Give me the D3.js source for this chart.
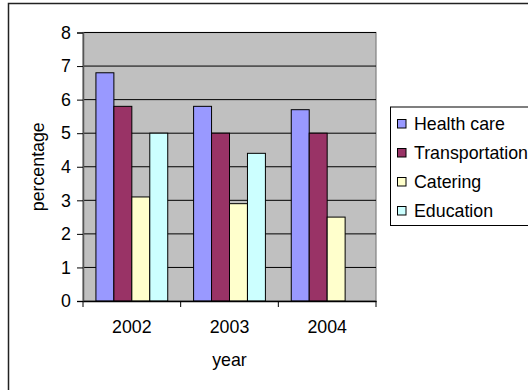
<!DOCTYPE html>
<html>
<head>
<meta charset="utf-8">
<script src="https://cdn.jsdelivr.net/npm/d3@7"></script>
<style>
  body { margin: 0; background: #fff; }
  svg { display: block; font-family: "Liberation Sans", Arial, sans-serif; }
</style>
</head>
<body>
<div id="chart"></div>
<script>
var years = ['2002', '2003', '2004']
var series = ['Health care', 'Transportation', 'Catering', 'Education']
var colours = ['#9999ff', '#993366', '#ffffcc', '#ccffff']
var healthCare = [6.8, 5.8, 5.7]
var transportation = [5.8, 5.0, 5.0]
var catering = [3.1, 2.9, 2.5]
var education = [5.0, 4.4, 0]
var yTicks = [0, 1, 2, 3, 4, 5, 6, 7, 8]

var values = [healthCare, transportation, catering, education]

var w = 528
var h = 390
var fs = 17.8

var plot = { left: 83, right: 376, top: 32.5, bottom: 301 }

var svg = d3.select('#chart').append('svg')
  .attr('width', w)
  .attr('height', h)

// outer chart frame (runs off the right and bottom edge)
svg.append('rect')
  .attr('x', 8.5).attr('y', 3.5)
  .attr('width', w + 20).attr('height', h + 20)
  .attr('fill', '#fff')
  .attr('stroke', '#222')
  .attr('stroke-width', 1.5)

var x0 = d3.scaleBand().domain(years).range([plot.left, plot.right])
var x1 = d3.scaleBand().domain(series).range([0, x0.bandwidth()])
  .paddingInner(0).paddingOuter(0.72)
var y = d3.scaleLinear().domain([0, 8]).range([plot.bottom, plot.top])

// plot area
svg.append('rect')
  .attr('x', plot.left).attr('y', plot.top)
  .attr('width', plot.right - plot.left).attr('height', plot.bottom - plot.top)
  .attr('fill', '#c0c0c0')
  .attr('stroke', '#808080')
  .attr('stroke-width', 1.2)

// gridlines
svg.append('g').selectAll('line')
  .data(yTicks.filter(function (d) { return d > 0 }))
  .enter().append('line')
  .attr('x1', plot.left).attr('x2', plot.right)
  .attr('y1', function (d) { return y(d) }).attr('y2', function (d) { return y(d) })
  .attr('stroke', '#000')
  .attr('stroke-width', 1)

// bars
var groups = svg.append('g').selectAll('g')
  .data(years)
  .enter().append('g')
  .attr('transform', function (d) { return 'translate(' + x0(d) + ',0)' })

groups.selectAll('rect')
  .data(function (d, i) {
    return series.map(function (s, j) { return { s: s, j: j, v: values[j][i] } })
  })
  .enter().filter(function (d) { return d.v > 0 }).append('rect')
  .attr('x', function (d) { return x1(d.s) })
  .attr('width', x1.bandwidth())
  .attr('y', function (d) { return y(d.v) })
  .attr('height', function (d) { return y(0) - y(d.v) })
  .attr('fill', function (d) { return colours[d.j] })
  .attr('stroke', '#000')
  .attr('stroke-width', 1)

// y axis
var yAxis = d3.axisLeft(y).tickValues(yTicks).tickSize(6).tickPadding(6)
var gy = svg.append('g').attr('transform', 'translate(' + plot.left + ',0)').call(yAxis)
gy.select('.domain').attr('stroke', '#555').attr('stroke-width', 1.5)
gy.selectAll('.tick line').attr('stroke', '#000')
gy.selectAll('text').attr('font-size', fs).attr('fill', '#000').attr('font-family', null)

// x axis
var xAxis = d3.axisBottom(x0).tickSize(0).tickPadding(19)
var gx = svg.append('g').attr('transform', 'translate(0,' + plot.bottom + ')').call(xAxis)
gx.select('.domain').attr('stroke', '#000').attr('stroke-width', 1.5)
gx.selectAll('text').attr('font-size', fs).attr('fill', '#000').attr('font-family', null)
gx.selectAll('.sep')
  .data([plot.left, x0('2003'), x0('2004'), plot.right])
  .enter().append('line')
  .attr('x1', function (d) { return d }).attr('x2', function (d) { return d })
  .attr('y1', 0).attr('y2', 6)
  .attr('stroke', '#000')

// axis titles
svg.append('text')
  .attr('x', (plot.left + plot.right) / 2).attr('y', 366)
  .attr('text-anchor', 'middle')
  .attr('font-size', fs)
  .text('year')

svg.append('text')
  .attr('transform', 'translate(44,' + (plot.top + plot.bottom) / 2 + ') rotate(-90)')
  .attr('text-anchor', 'middle')
  .attr('font-size', fs)
  .text('percentage')

// legend
var legend = svg.append('g')
legend.append('rect')
  .attr('x', 390.5).attr('y', 107)
  .attr('width', 160).attr('height', 118.5)
  .attr('fill', '#fff')
  .attr('stroke', '#000')
  .attr('stroke-width', 1)

var items = legend.selectAll('.item')
  .data(series)
  .enter().append('g')
  .attr('transform', function (d, i) { return 'translate(397,' + (123.5 + i * 29) + ')' })

items.append('rect')
  .attr('x', 0.5).attr('y', -4)
  .attr('width', 8.5).attr('height', 8.5)
  .attr('fill', function (d, i) { return colours[i] })
  .attr('stroke', '#000')
  .attr('stroke-width', 1)

items.append('text')
  .attr('x', 17).attr('y', 6)
  .attr('font-size', fs)
  .text(function (d) { return d })
</script>
</body>
</html>
